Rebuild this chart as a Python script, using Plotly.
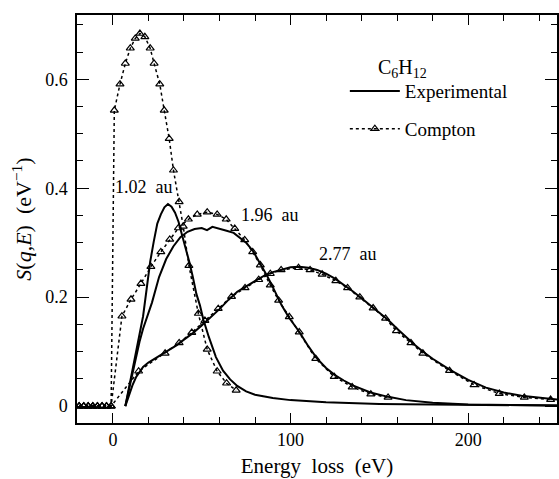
import plotly.graph_objects as go

# ---------------- data ----------------
zero_E = [-19.0, -16.4, -13.9, -11.3, -8.7, -6.1, -3.6, -1.0]
zero_S = [0, 0, 0, 0, 0, 0, 0, 0]

compton_102_E = zero_E + [0.8, 4.0, 7.0, 9.8, 12.6, 15.2, 18.0, 21.0, 23.2, 26.4, 28.9,
                          31.7, 34.1, 37.3, 39.6, 42.8, 48.1, 53.1, 58.7, 64.0, 69.4]
compton_102_S = zero_S + [0.543, 0.591, 0.629, 0.657, 0.675, 0.684, 0.678, 0.657, 0.629, 0.591, 0.543,
                          0.491, 0.433, 0.375, 0.330, 0.258, 0.170, 0.104, 0.064, 0.042, 0.029]

compton_196_E = zero_E + [5.1, 10.2, 15.8, 21.4, 27.0, 32.0, 36.9, 42.5, 47.5, 53.1, 58.7,
                          63.8, 68.6, 74.2, 78.7, 83.0, 88.6, 93.3, 99.3, 104.9, 114.2,
                          124.6, 134.7, 145.2, 154.9]
compton_196_S = zero_S + [0.165, 0.196, 0.225, 0.256, 0.283, 0.306, 0.327, 0.343, 0.352, 0.356, 0.352,
                          0.343, 0.326, 0.305, 0.283, 0.259, 0.222, 0.194, 0.164, 0.136, 0.087,
                          0.054, 0.035, 0.022, 0.016]

compton_277_E = zero_E + [14.5, 29.4, 37.3, 44.4, 51.8, 59.3, 66.8, 74.4, 82.1, 88.6, 94.7,
                          104.5, 111.0, 117.8, 125.5, 132.1, 139.0, 146.5, 153.5, 159.6,
                          167.8, 174.5, 189.5, 203.3, 217.5, 231.6, 246.4]
compton_277_S = zero_S + [0.064, 0.097, 0.116, 0.135, 0.157, 0.179, 0.201, 0.217, 0.232, 0.243, 0.250,
                          0.254, 0.250, 0.242, 0.230, 0.217, 0.200, 0.180, 0.161, 0.138,
                          0.116, 0.097, 0.065, 0.039, 0.023, 0.016, 0.012]

exp_102_E = [7, 9, 11, 13, 15, 17, 19, 21, 23, 25, 27, 29, 31, 33, 35, 37, 39, 41, 43, 45, 47,
             49, 51, 54, 58, 62, 66, 70, 75, 80, 90, 100, 120, 150, 200, 250]
exp_102_S = [0.0, 0.033, 0.067, 0.100, 0.135, 0.165, 0.215, 0.265, 0.302, 0.335, 0.352, 0.365,
             0.371, 0.366, 0.355, 0.338, 0.313, 0.290, 0.265, 0.237, 0.206, 0.185, 0.158, 0.127,
             0.090, 0.065, 0.049, 0.037, 0.027, 0.021, 0.015, 0.011, 0.007, 0.004, 0.002, 0.001]

exp_196_E = [7, 9, 11, 13, 15, 17, 19, 22, 26, 30, 34, 38, 42, 46, 50, 53, 56, 60, 64, 68, 72,
             75, 79, 83, 87, 91, 95, 99, 105, 110, 115, 120, 125, 130, 135, 145, 155, 165, 180,
             200, 250]
exp_196_S = [0.0, 0.030, 0.060, 0.090, 0.118, 0.142, 0.160, 0.190, 0.237, 0.270, 0.293, 0.310,
             0.320, 0.325, 0.327, 0.323, 0.329, 0.326, 0.322, 0.318, 0.308, 0.300, 0.284, 0.262,
             0.238, 0.212, 0.185, 0.163, 0.136, 0.110, 0.087, 0.070, 0.057, 0.047, 0.038, 0.025,
             0.017, 0.011, 0.006, 0.003, 0.001]

exp_277_E = [7, 9, 11, 13, 15, 17, 20, 24, 28, 32, 36, 40, 45, 50, 55, 60, 65, 70, 75, 80, 85,
             90, 95, 100, 105, 110, 115, 120, 125, 130, 135, 140, 145, 150, 155, 160, 165, 170,
             175, 180, 190, 200, 210, 220, 230, 240, 250]
exp_277_S = [0.0, 0.020, 0.038, 0.053, 0.063, 0.072, 0.080, 0.088, 0.095, 0.103, 0.112, 0.122,
             0.134, 0.148, 0.163, 0.178, 0.195, 0.210, 0.220, 0.230, 0.239, 0.246, 0.251, 0.255,
             0.256, 0.254, 0.250, 0.243, 0.234, 0.223, 0.211, 0.198, 0.185, 0.172, 0.158, 0.142,
             0.127, 0.112, 0.099, 0.087, 0.066, 0.048, 0.034, 0.025, 0.019, 0.015, 0.012]

momenta = ["1.02\u00a0\u00a0au", "1.96\u00a0\u00a0au", "2.77\u00a0\u00a0au"]
label_E = [17.6, 88.2, 132.5]
label_S = [0.402, 0.350, 0.279]

x_ticks = [0, 100, 200]
y_ticks = [0, 0.2, 0.4, 0.6]

# ---------------- figure ----------------
FONT = "Liberation Serif"
fig = go.Figure()

exp_sets = [(exp_102_E, exp_102_S), (exp_196_E, exp_196_S), (exp_277_E, exp_277_S)]
comp_sets = [(compton_102_E, compton_102_S), (compton_196_E, compton_196_S),
             (compton_277_E, compton_277_S)]

for i, (E, S) in enumerate(comp_sets):
    fig.add_trace(go.Scatter(
        x=E, y=S, mode="lines+markers", name="Compton",
        legendgroup="compton", showlegend=(i == 0), legendrank=2,
        line=dict(color="black", width=1.5, dash="dot"),
        marker=dict(symbol="triangle-up-open", size=7, color="black",
                    line=dict(width=1.2, color="black")),
    ))

for i, (E, S) in enumerate(exp_sets):
    fig.add_trace(go.Scatter(
        x=E, y=S, mode="lines", name="Experimental",
        legendgroup="exp", showlegend=(i == 0), legendrank=1,
        line=dict(color="black", width=2),
    ))

for txt, xe, ys in zip(momenta, label_E, label_S):
    fig.add_annotation(x=xe, y=ys, xref="x", yref="y", text=txt, showarrow=False,
                       xanchor="center", yanchor="middle",
                       font=dict(family=FONT, size=18, color="black"))

fig.add_annotation(x=0.678, y=0.87, xref="paper", yref="paper",
                   text="C<sub>6</sub>H<sub>12</sub>", showarrow=False,
                   xanchor="center", yanchor="middle",
                   font=dict(family=FONT, size=20, color="black"))

axis_common = dict(
    showgrid=False, zeroline=False, showline=True, linecolor="black", linewidth=1.5,
    mirror="allticks", ticks="inside", tickcolor="black", tickwidth=1.2,
    tickfont=dict(family=FONT, size=18, color="black"),
)

fig.update_xaxes(
    range=[-20.2, 250], tickvals=x_ticks, ticklen=10,
    minor=dict(dtick=20, tick0=0, ticks="inside", ticklen=6, tickcolor="black", tickwidth=1.2),
    title=dict(text="Energy\u00a0\u00a0loss\u00a0\u00a0(eV)", standoff=9,
               font=dict(family=FONT, size=21, color="black")),
    **axis_common,
)
fig.update_yaxes(
    range=[-0.031, 0.718], tickvals=y_ticks, ticklen=12, ticklabelstandoff=4,
    minor=dict(dtick=0.05, tick0=0, ticks="inside", ticklen=6, tickcolor="black", tickwidth=1.2),
    title=dict(text="<i>S</i>(<i>q</i>,<i>E</i>)\u00a0\u00a0(eV<sup>\u22121</sup>)", standoff=7,
               font=dict(family=FONT, size=22, color="black")),
    **axis_common,
)

fig.update_layout(
    width=559, height=479,
    margin=dict(l=77, r=0, t=15, b=56),
    paper_bgcolor="white", plot_bgcolor="white",
    font=dict(family=FONT, size=18, color="black"),
    legend=dict(x=0.558, y=0.86, xanchor="left", yanchor="top", itemwidth=50,
                bgcolor="rgba(0,0,0,0)", borderwidth=0, tracegroupgap=10,
                font=dict(family=FONT, size=19, color="black")),
)

fig.write_html("out.html", config={"displayModeBar": False},
               post_script="document.body.style.margin='0px';")
